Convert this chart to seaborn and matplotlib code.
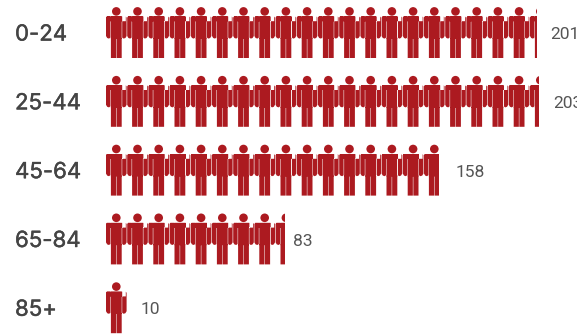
import math
import matplotlib
matplotlib.use("Agg")
import matplotlib.pyplot as plt
import matplotlib.patheffects as pe
from matplotlib.patches import PathPatch
from matplotlib.path import Path
from matplotlib.transforms import Affine2D
import pandas as pd
import seaborn as sns

age_groups = ["0-24", "25-44", "45-64", "65-84", "85+"]
values = [201, 203, 158, 83, 10]
visible_lengths = [203.3, 204.3, 157.0, 84.4, 10.0]

W, H = 577, 334
LEFT = 106
PX_PER_UNIT = 2.12
ROW_PITCH = 68.8
FIRST_ROW = 32.6
ICON_UNITS = 10
RED = "#AC1A20"

sns.set_theme(style="white")
plt.rcParams["font.family"] = ["Inter", "DejaVu Sans"]


def rect(x0, y0, x1, y1):
    return Path([(x0, y0), (x1, y0), (x1, y1), (x0, y1), (x0, y0)], closed=True)


def person_path():
    head = Path.circle((10.3, 4.2), 4.3)
    shoulders = rect(0.8, 9.3, 19.8, 14.0)
    l_arm = Path([(0, 10.4), (0.8, 9.3), (4.4, 9.3), (4.4, 30.4), (3.0, 31.4), (1.2, 30.8), (0, 28.8), (0, 10.4)], closed=True)
    r_arm = Path([(20.6, 10.4), (19.8, 9.3), (16.2, 9.3), (16.2, 30.4), (17.6, 31.4), (19.4, 30.8), (20.6, 28.8), (20.6, 10.4)], closed=True)
    torso = rect(4.9, 9.3, 15.7, 31.5)
    l_leg = rect(4.9, 31, 10.05, 50.8)
    r_leg = rect(10.55, 31, 15.7, 50.8)
    return Path.make_compound_path(head, shoulders, l_arm, r_arm, torso, l_leg, r_leg)


data = pd.DataFrame({"age": age_groups, "length": visible_lengths})

fig = plt.figure(figsize=(W / 100, H / 100), dpi=100)
ax = fig.add_axes([LEFT / W, 0, (W - LEFT) / W, 1])
sns.barplot(data=data, y="age", x="length", order=age_groups, width=1.0,
            facecolor="none", edgecolor="none", linewidth=0, ax=ax)
ax.set_xlim(0, (W - LEFT) / PX_PER_UNIT)
ax.set_ylim((H - FIRST_ROW) / ROW_PITCH, -FIRST_ROW / ROW_PITCH)
ax.set_xlabel("")
ax.set_ylabel("")
ax.set_xticks([])
sns.despine(ax=ax, left=True, bottom=True, top=True, right=True)
ax.patch.set_alpha(0)

ax.tick_params(axis="y", length=0, pad=91 * 0.72)
for lab in ax.get_yticklabels():
    lab.set_ha("left")
    lab.set_fontsize(16)
    lab.set_color("#444444")
    lab.set_path_effects([pe.withStroke(linewidth=0.3, foreground="#444444")])

icon = person_path()
bars = ax.containers[0]
for row, (bar, length) in enumerate(zip(bars, visible_lengths)):
    for i in range(math.ceil(length / ICON_UNITS)):
        tr = (Affine2D()
              .translate(0, -25.4)
              .scale(1 / PX_PER_UNIT, 1 / ROW_PITCH)
              .translate(i * ICON_UNITS, row))
        p = PathPatch(icon.transformed(tr), facecolor=RED, edgecolor="none", lw=0)
        ax.add_patch(p)
        p.set_clip_path(bar)

gaps_px = [13.5, 14, 16.5, 8, 13]
for bar, value, gap in zip(bars, values, gaps_px):
    ax.annotate(str(value), xy=(bar.get_width(), bar.get_y() + bar.get_height() / 2),
                xytext=(gap * 0.72, -0.5), textcoords="offset points",
                ha="left", va="center_baseline", fontsize=12.5,
                family=["Roboto", "DejaVu Sans"], color="#555555", annotation_clip=False)

fig.savefig("out.png", dpi=100)
